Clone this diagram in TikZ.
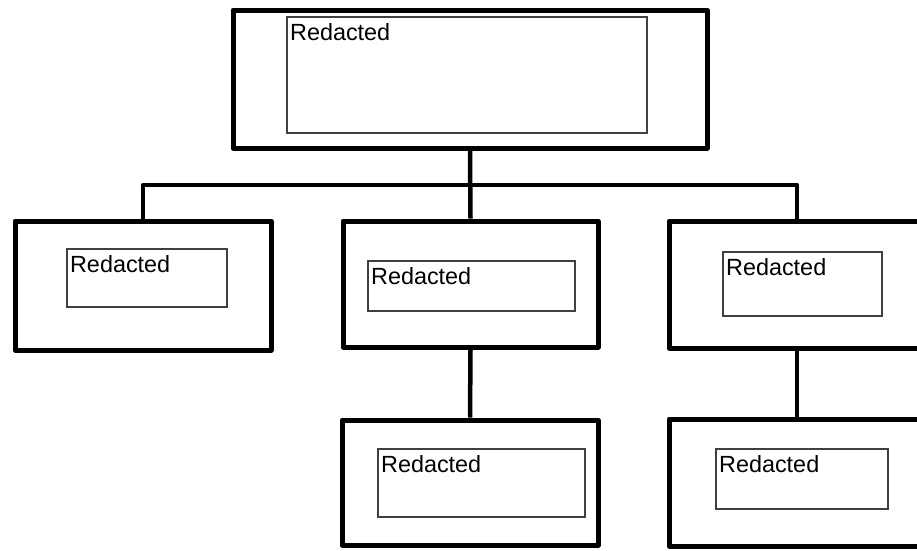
\documentclass[tikz,border=0pt]{standalone}
\usepackage{fontspec}
\setmainfont{Liberation Sans}
\begin{document}
\begin{tikzpicture}[x=1pt,y=-1pt,
  outerbox/.style={draw=black,line width=5pt,rectangle,minimum width=#1,inner sep=0pt,line join=round},
  innerbox/.style={draw=black!75,line width=1.2pt,rectangle,inner sep=0pt},
  lbl/.style={anchor=north west,inner xsep=3.5pt,inner ysep=6.5pt,font=\fontsize{23.4}{27}\selectfont},
  conn/.style={draw=black,line width=4.5pt,line join=round}]
\useasboundingbox (0,0) rectangle (917,550);
\clip (0,0) rectangle (917,550);
% outer boxes
\node[outerbox=474pt,minimum height=138pt] (T)  at (470,79) {};
\node[outerbox=256pt,minimum height=129pt] (L)  at (143,285.5) {};
\node[outerbox=255pt,minimum height=126pt] (M)  at (470.5,284) {};
\node[outerbox=256pt,minimum height=127pt] (R)  at (797,284.5) {};
\node[outerbox=256pt,minimum height=125pt] (BM) at (470,482.5) {};
\node[outerbox=256pt,minimum height=127pt] (BR) at (797,482.5) {};
% inner boxes
\node[innerbox,minimum width=360pt,minimum height=116pt] (Ti)  at (467,75) {};
\node[innerbox,minimum width=160pt,minimum height=58pt]  (Li)  at (147,278) {};
\node[innerbox,minimum width=207pt,minimum height=50pt]  (Mi)  at (471.5,286) {};
\node[innerbox,minimum width=159pt,minimum height=64pt]  (Ri)  at (802.5,284) {};
\node[innerbox,minimum width=207pt,minimum height=68pt]  (BMi) at (481.5,483) {};
\node[innerbox,minimum width=172pt,minimum height=60pt]  (BRi) at (802,479) {};
% labels
\node[lbl] (Tt)  at (Ti.north west)  {Redacted};
\node[lbl] (Lt)  at (Li.north west)  {Redacted};
\node[lbl] (Mt)  at (Mi.north west)  {Redacted};
\node[lbl] (Rt)  at (Ri.north west)  {Redacted};
\node[lbl] (BMt) at (BMi.north west) {Redacted};
\node[lbl] (BRt) at (BRi.north west) {Redacted};
% connectors
\coordinate (bus) at (0,185);
\draw[conn] (T.south) -- (M.north);
\draw[conn] (L.north) -- (L.north |- bus) -- (R.north |- bus) -- (R.north);
\draw[conn] (M.south) -- (BM.north);
\draw[conn] (R.south) -- (BR.north);
\end{tikzpicture}
\end{document}
